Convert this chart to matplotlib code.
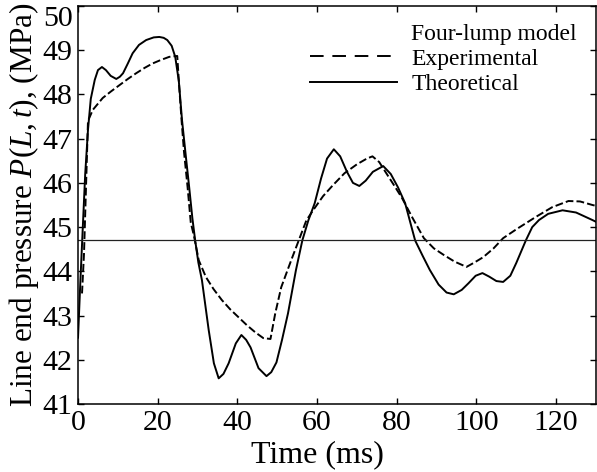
import matplotlib
matplotlib.use('Agg')
import matplotlib.pyplot as plt
from matplotlib.lines import Line2D

plt.rcParams['font.family'] = 'Liberation Serif'
plt.rcParams['mathtext.fontset'] = 'custom'
plt.rcParams['mathtext.rm'] = 'Liberation Serif'
plt.rcParams['mathtext.it'] = 'Liberation Serif:italic'

# theoretical (four-lump model)
t_theo = [0, 0.6, 1.2, 1.8, 2.5, 3.2, 4.2, 5.0, 6.0, 7.0, 8.2, 9.6, 10.5, 11.3,
          12.5, 13.7, 15.3, 17.1, 19.0, 20.4, 21.5, 22.4, 23.5, 24.4, 25.3,
          26.1, 27.0, 27.9, 28.7, 29.4, 30.2, 31.1, 32.0, 32.8, 34.1, 35.3,
          36.5, 37.8, 39.6, 41.0, 42.2, 43.3, 45.3, 47.3, 48.5, 49.8, 51.2,
          52.7, 54.7, 56.3, 57.8, 59.4, 61.0, 62.5, 64.2, 65.8, 67.5, 69.0,
          70.6, 72.2, 74.0, 76.6, 78.5, 80.3, 82.1, 84.6, 86.5, 88.3, 90.5,
          92.5, 94.3, 96.3, 98.0, 99.8, 101.5, 103.2, 105.0, 106.7, 108.5,
          110.0, 112.4, 114.0, 115.7, 118.0, 121.6, 125.0, 129.1, 130]
p_theo = [42.5, 43.8, 45.0, 46.2, 47.2, 47.9, 48.33, 48.55, 48.62, 48.55, 48.42,
          48.35, 48.4, 48.48, 48.7, 48.93, 49.12, 49.23, 49.29, 49.3, 49.28,
          49.23, 49.1, 48.85, 48.3, 47.42, 46.65, 45.9, 45.2, 44.7, 44.2, 43.8,
          43.2, 42.67, 41.92, 41.58, 41.68, 41.92, 42.37, 42.56, 42.45, 42.28,
          41.81, 41.63, 41.72, 41.94, 42.45, 43.05, 44.03, 44.7, 45.15, 45.54,
          46.1, 46.55, 46.76, 46.6, 46.25, 46.0, 45.93, 46.05, 46.25, 46.38,
          46.2, 45.9, 45.54, 44.7, 44.35, 44.03, 43.7, 43.52, 43.48, 43.58,
          43.73, 43.9, 43.96, 43.88, 43.78, 43.76, 43.9, 44.19, 44.7, 45.0,
          45.16, 45.3, 45.38, 45.33, 45.16, 45.12]

# experimental
t_exp = [1.0, 1.5, 2.0, 2.5, 3.7, 6.2, 8.3, 10.4, 12.5, 14.6, 16.7, 18.7, 20.8,
         22.9, 24.9, 25.4, 26.0, 26.6, 27.5, 28.3, 29.1, 30.3, 32.1, 34.0,
         36.1, 38.2, 40.3, 42.4, 44.5, 46.5, 48.3, 49.5, 51.0, 53.5, 55.4,
         57.3, 59.0, 61.5, 64.0, 66.9, 70.0, 72.5, 73.9, 75.6, 77.5, 79.5,
         81.3, 84.0, 86.8, 89.3, 91.8, 94.5, 97.5, 99.5, 101.7, 104.3, 106.7,
         110.0, 114.9, 119.0, 123.1, 126.0, 129.1, 130]
p_exp = [43.5, 44.4, 45.9, 47.4, 47.65, 47.92, 48.07, 48.21, 48.35, 48.48,
         48.6, 48.7, 48.78, 48.85, 48.87, 48.17, 47.4, 46.7, 45.9, 45.1, 44.8,
         44.25, 43.87, 43.6, 43.35, 43.14, 42.96, 42.78, 42.62, 42.49, 42.47,
         43.05, 43.64, 44.25, 44.7, 45.15, 45.38, 45.7, 45.95, 46.22, 46.42,
         46.55, 46.6, 46.47, 46.2, 45.92, 45.66, 45.2, 44.75, 44.52, 44.37,
         44.22, 44.1, 44.2, 44.32, 44.52, 44.75, 44.95, 45.23, 45.45, 45.59,
         45.58, 45.5, 45.48]

p_ref = 44.7
xticks = [0, 20, 40, 60, 80, 100, 120]
yticks = [41, 42, 43, 44, 45, 46, 47, 48, 49, 50]

fig = plt.figure(figsize=(5.97, 4.72), dpi=100)
ax = fig.add_axes([0.1307, 0.1441, 0.8676, 0.8432])

ax.plot(t_exp, p_exp, color='black', lw=1.4, dashes=(4, 1.6))
ax.plot(t_theo, p_theo, color='black', lw=1.4)
ax.axhline(p_ref, color='#222222', lw=0.9)

ax.set_xlim(0, 130)
ax.set_ylim(41, 50)
ax.set_xticks(xticks)
ax.set_yticks(yticks)
ax.tick_params(direction='in', length=4, width=1, top=True, right=True,
               labelsize=21.5, pad=4)
ax.get_yticklabels()[-1].set_verticalalignment('top')
for s in ax.spines.values():
    s.set_linewidth(1.1)

ax.set_xlabel('Time (ms)', fontsize=23)
ax.xaxis.set_label_coords(0.462, -0.09)
ax.set_ylabel(r'Line end pressure $P(L,t)$, (MPa)', fontsize=22.5, labelpad=1)

handles = [Line2D([], [], linestyle='none'),
           Line2D([], [], color='black', lw=1.4, dashes=(7, 4.5)),
           Line2D([], [], color='black', lw=1.4)]
labels = ['Four-lump model', 'Experimental', 'Theoretical']
ax.legend(handles, labels, loc='upper left', frameon=False, fontsize=17,
          handlelength=3.7, handletextpad=0.6, labelspacing=0.15,
          bbox_to_anchor=(0.447, 0.957), borderaxespad=0, borderpad=0)

fig.savefig('out.png', dpi=100)
